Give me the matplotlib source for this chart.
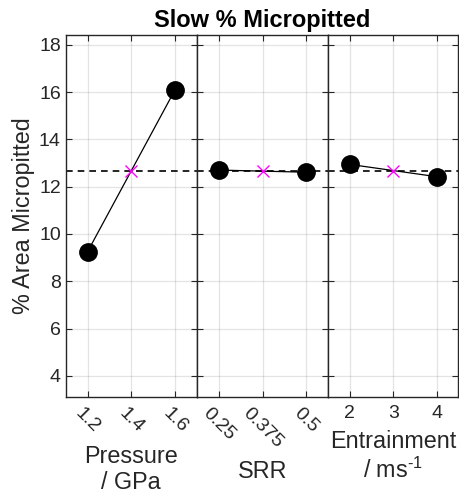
import matplotlib
matplotlib.use("Agg")
import matplotlib.pyplot as plt
import numpy as np

plt.rcParams['font.family'] = ['Liberation Sans', 'DejaVu Sans']
plt.rcParams['mathtext.fontset'] = 'custom'
plt.rcParams['mathtext.rm'] = 'Liberation Sans'

# Factor levels and the response at each level
pressure_levels = [1.2, 1.4, 1.6]
pressure_values = [9.25, 16.10]
srr_levels = [0.25, 0.375, 0.5]
srr_values = [12.70, 12.61]
entrain_levels = [2, 3, 4]
entrain_values = [12.94, 12.42]

pressure_ticklabels = ['1.2', '1.4', '1.6']
srr_ticklabels = ['0.25', '0.375', '0.5']
entrain_ticklabels = ['2', '3', '4']

title = 'Slow % Micropitted'
ylabel = '% Area Micropitted'

panels = [
    (pressure_levels, pressure_values, pressure_ticklabels, 'Pressure\n/ GPa', True),
    (srr_levels, srr_values, srr_ticklabels, 'SRR', True),
    (entrain_levels, entrain_values, entrain_ticklabels, 'Entrainment\n/ ms$^{\\text{-1}}$', False),
]

grand_mean = np.mean(pressure_values + srr_values + entrain_values)

W, H = 460, 499
fig = plt.figure(figsize=(W / 100, H / 100), dpi=100)

edges = [65.7, 197.0, 328.0, 458.5]
top_px, bot_px = 35.0, 396.7
spine_col = '#262626'

axes = []
for i, (levels, vals, tlabels, xlab, rotate) in enumerate(panels):
    x0, x1 = edges[i], edges[i + 1]
    ax = fig.add_axes([x0 / W, (H - bot_px) / H, (x1 - x0) / W, (bot_px - top_px) / H])
    axes.append(ax)
    step = levels[1] - levels[0]
    ax.set_xlim(levels[0] - step / 2, levels[-1] + step / 2)
    ax.set_ylim(3.12, 18.41)
    ax.set_xticks(levels)
    ax.set_yticks(np.arange(4, 19, 2))
    ax.grid(True, color='#262626', alpha=0.12, linewidth=0.9)
    ax.set_axisbelow(True)

    ax.axhline(grand_mean, color='black', linestyle=(0, (4, 3)), linewidth=1.2, zorder=2)
    ax.plot([levels[0], levels[-1]], vals, color='black', linewidth=0.9,
            marker='o', markersize=12.5, markerfacecolor='black', zorder=3)
    ax.plot([levels[1]], [np.mean(vals)], linestyle='none', marker='x',
            markersize=8, color='#ff00ff', markeredgewidth=1.0, zorder=4)

    ax.tick_params(direction='in', top=True, right=True, length=4, width=0.8,
                   color=spine_col, labelsize=14, labelcolor='#262626')
    for s in ax.spines.values():
        s.set_color(spine_col)
        s.set_linewidth(1.0)

    if rotate:
        ax.set_xticklabels(tlabels, rotation=-45, ha='center', va='top')
    else:
        ax.set_xticklabels(tlabels)
    ax.tick_params(axis='x', pad=6)
    ax.set_xlabel(xlab, fontsize=16.8, color='#262626', linespacing=1.2, labelpad=6)
    if i > 0:
        ax.tick_params(labelleft=False)

axes[0].set_ylabel(ylabel, fontsize=16.8, color='#262626', labelpad=3)
fig.text((edges[0] + edges[-1]) / 2 / W, 1 - 20 / H, title, ha='center', va='center',
         fontsize=17, fontweight='bold')

fig.savefig('out.png', dpi=100)
